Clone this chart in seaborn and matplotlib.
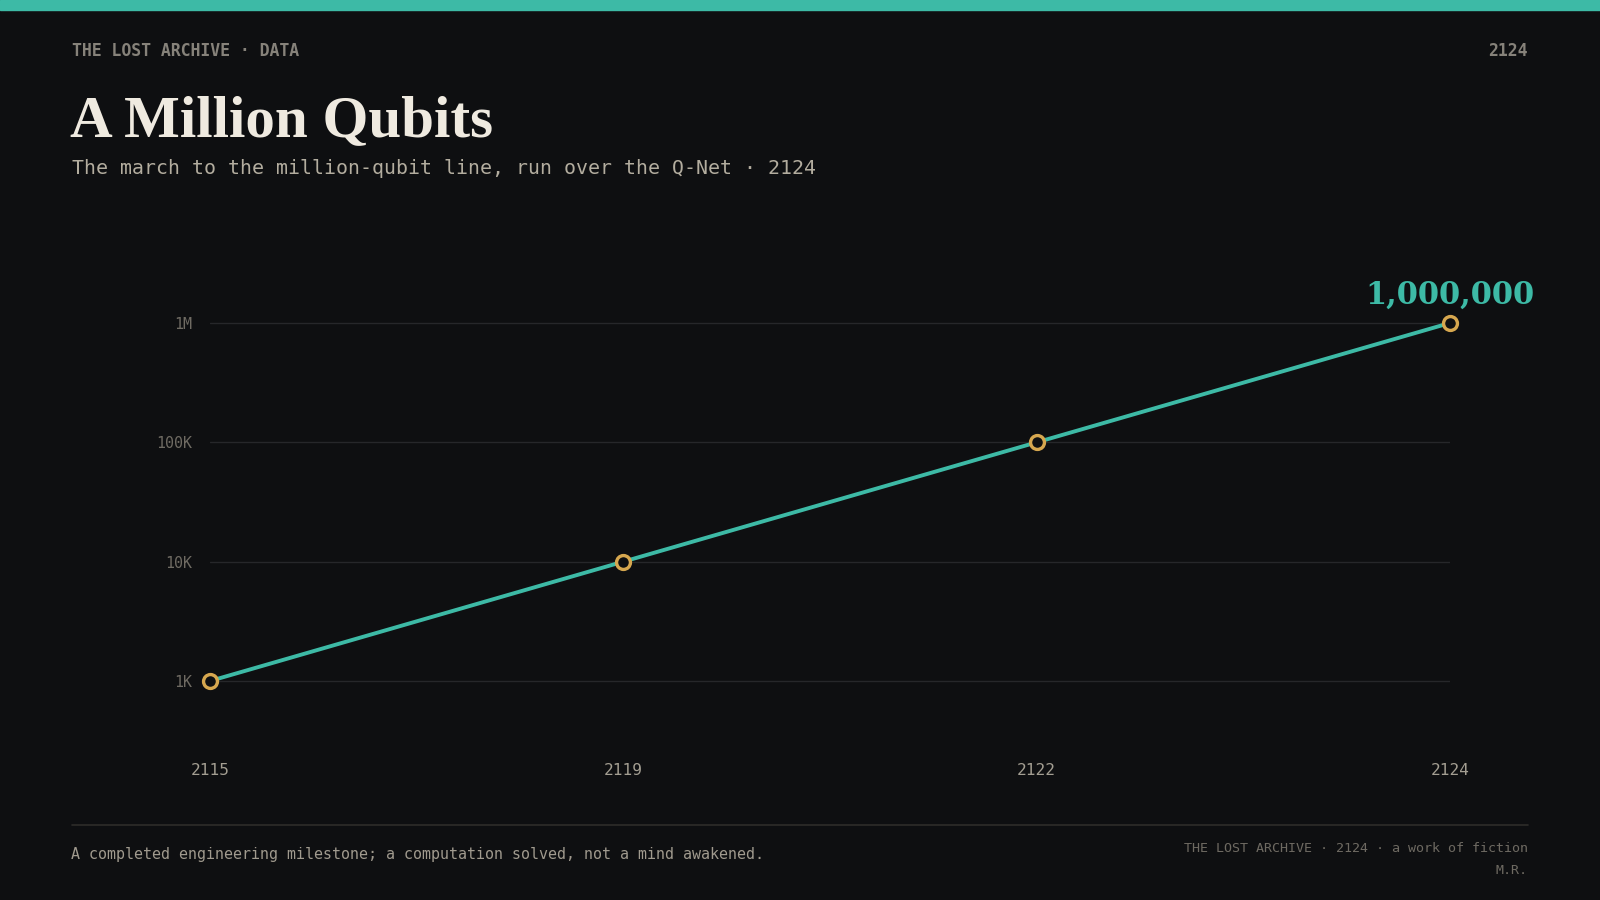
import matplotlib
matplotlib.use('Agg')
import matplotlib.pyplot as plt
import seaborn as sns
import pandas as pd
from matplotlib.ticker import FixedLocator, NullLocator

# data
years = ['2115', '2119', '2122', '2124']
qubits = [1_000, 10_000, 100_000, 1_000_000]
ytick_vals = [1_000, 10_000, 100_000, 1_000_000]
ytick_labels = ['1K', '10K', '100K', '1M']

df = pd.DataFrame({'pos': range(len(years)), 'qubits': qubits})

# colours
BG = '#0e0f11'
TEAL = '#3dbaa6'
GOLD = '#d6a74f'
GRID = '#26272a'
MONO = 'DejaVu Sans Mono'
SERIF = 'Liberation Serif'

sns.set_theme(style='dark')
plt.rcParams['font.family'] = ['DejaVu Sans']

W, H = 1600, 900
fig = plt.figure(figsize=(16, 9), dpi=100, facecolor=BG)

def fx(px):
    return px / W

def fy(py):
    return 1 - py / H

# top accent bar
fig.patches.append(plt.Rectangle((0, fy(10)), 1, 10 / H, transform=fig.transFigure,
                                 color=TEAL, zorder=5))

# header
fig.text(fx(72), fy(51), 'THE LOST ARCHIVE · DATA', family=MONO, fontweight='bold',
         fontsize=11.9, color='#86827a', va='center', ha='left')
fig.text(fx(1528), fy(51), '2124', family=MONO, fontweight='bold',
         fontsize=11.9, color='#86827a', va='center', ha='right')
fig.text(fx(70), fy(136), 'A Million Qubits', family=SERIF, fontweight='bold',
         fontsize=42.5, color='#efeae0', va='baseline', ha='left')
fig.text(fx(72), fy(168), 'The march to the million-qubit line, run over the Q-Net · 2124',
         family=MONO, fontsize=14.3, color='#b3ad9f', va='center', ha='left')

# main axes: x from 210 to 1450 px, 1K at 681 px, 1M at 323 px
ax = fig.add_axes([fx(210), fy(745), fx(1450) - fx(210), fy(290) - fy(745)])
ax.set_facecolor(BG)
ax.set_yscale('log')
dec = (681 - 323) / 3
ax.set_xlim(0, len(years) - 1)
ax.set_ylim(10 ** (3 - (745 - 681) / dec), 10 ** (6 + (323 - 290) / dec))

sns.lineplot(data=df, x='pos', y='qubits', ax=ax, color=TEAL, linewidth=2.8,
             marker='o', markersize=10, markerfacecolor=BG, markeredgecolor=GOLD,
             markeredgewidth=2.4, clip_on=False, zorder=4)

ax.yaxis.set_major_locator(FixedLocator(ytick_vals))
ax.yaxis.set_minor_locator(NullLocator())
ax.set_yticklabels(ytick_labels, family=MONO, fontsize=10.8, color='#6f6b63')
ax.set_xticks(range(len(years)))
ax.set_xticklabels(years, family=MONO, fontsize=11.6, color='#a39e92')
ax.tick_params(axis='y', length=0, pad=13)
ax.tick_params(axis='x', length=0, pad=13)
ax.grid(axis='y', color=GRID, linewidth=1)
ax.grid(axis='x', visible=False)
for s in ax.spines.values():
    s.set_visible(False)
ax.set_xlabel('')
ax.set_ylabel('')

# end label
ax.annotate(f'{qubits[-1]:,}', xy=(len(years) - 1, qubits[-1]), xytext=(0, 9),
            textcoords='offset points', ha='center', va='bottom',
            family='DejaVu Serif', fontweight='bold', fontsize=22, color=TEAL,
            annotation_clip=False)

# footer
fig.add_artist(plt.Line2D([fx(72), fx(1528)], [fy(825), fy(825)], color='#2e2d2a',
                          linewidth=1.2, transform=fig.transFigure))
fig.text(fx(71), fy(854), 'A completed engineering milestone; a computation solved, not a mind awakened.',
         family=MONO, fontsize=10.8, color='#a09a8e', va='center', ha='left')
fig.text(fx(1528), fy(849), 'THE LOST ARCHIVE · 2124 · a work of fiction',
         family=MONO, fontsize=9.6, color='#6e6a62', va='center', ha='right')
fig.text(fx(1528), fy(871), 'M.R.', family=MONO, fontsize=9.6, color='#6e6a62',
         va='center', ha='right')

fig.savefig('out.png', dpi=100, facecolor=BG)
